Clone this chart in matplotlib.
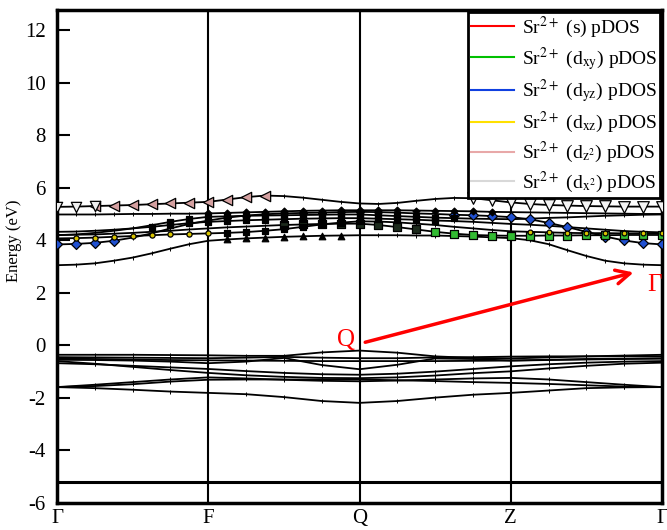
import numpy as np
import matplotlib
matplotlib.use("Agg")
import matplotlib.pyplot as plt
from matplotlib.lines import Line2D

plt.rcParams['font.family'] = ['Liberation Serif', 'DejaVu Serif']
plt.rcParams['mathtext.fontset'] = 'stix'

# high-symmetry path
kpath_labels = ['Γ', 'F', 'Q', 'Z', 'Γ']
kpath_pos = [0, 1, 2, 3, 4]

# conduction bands, sampled every 1/8 of a segment
k_cond = np.arange(33) * 0.125
cond_1 = [3.05, 3.07, 3.12, 3.22, 3.34, 3.50, 3.68, 3.85, 3.98, 4.03, 4.07, 4.10, 4.13, 4.15, 4.17, 4.18, 4.19,
          4.19, 4.19, 4.18, 4.18, 4.16, 4.14, 4.11, 4.08, 4.00, 3.85, 3.62, 3.40, 3.22, 3.12, 3.07, 3.05]
cond_2 = [3.84, 3.86, 3.90, 3.98, 4.10, 4.26, 4.45, 4.62, 4.75, 4.86, 4.94, 4.99, 5.02, 5.04, 5.05, 5.07, 5.08,
          5.07, 5.05, 5.02, 5.00, 4.97, 4.95, 4.92, 4.88, 4.80, 4.66, 4.50, 4.32, 4.14, 3.99, 3.89, 3.84]
cond_3 = [4.20, 4.21, 4.22, 4.25, 4.28, 4.32, 4.36, 4.41, 4.45, 4.49, 4.52, 4.55, 4.58, 4.60, 4.62, 4.63, 4.63,
          4.58, 4.50, 4.41, 4.32, 4.25, 4.20, 4.18, 4.17, 4.17, 4.18, 4.18, 4.19, 4.19, 4.20, 4.20, 4.20]
cond_4 = [4.07, 4.08, 4.10, 4.13, 4.16, 4.19, 4.22, 4.24, 4.26, 4.28, 4.31, 4.36, 4.42, 4.51, 4.60, 4.67, 4.72,
          4.71, 4.68, 4.63, 4.58, 4.51, 4.45, 4.39, 4.34, 4.32, 4.30, 4.28, 4.27, 4.27, 4.26, 4.26, 4.26]
cond_5 = [4.32, 4.33, 4.36, 4.40, 4.45, 4.51, 4.58, 4.65, 4.70, 4.73, 4.76, 4.78, 4.80, 4.82, 4.83, 4.84, 4.84,
          4.82, 4.80, 4.78, 4.75, 4.73, 4.70, 4.66, 4.62, 4.59, 4.55, 4.50, 4.45, 4.40, 4.35, 4.32, 4.30]
cond_6 = [4.19, 4.22, 4.28, 4.36, 4.45, 4.57, 4.70, 4.81, 4.89, 4.91, 4.93, 4.94, 4.95, 4.96, 4.97, 4.98, 4.98,
          4.95, 4.92, 4.89, 4.86, 4.84, 4.82, 4.81, 4.80, 4.82, 4.85, 4.87, 4.90, 4.93, 4.95, 4.97, 4.98]
cond_7 = [4.98, 4.98, 4.98, 4.99, 5.00, 5.00, 5.01, 5.01, 5.02, 5.04, 5.06, 5.08, 5.10, 5.12, 5.13, 5.14, 5.14,
          5.14, 5.14, 5.13, 5.12, 5.11, 5.10, 5.08, 5.07, 5.06, 5.05, 5.04, 5.03, 5.02, 5.01, 5.00, 5.00]
cond_8 = [5.27, 5.28, 5.30, 5.32, 5.34, 5.37, 5.40, 5.43, 5.46, 5.55, 5.64, 5.70, 5.68, 5.62, 5.54, 5.46, 5.40,
          5.38, 5.42, 5.50, 5.57, 5.61, 5.60, 5.52, 5.44, 5.38, 5.34, 5.32, 5.30, 5.29, 5.28, 5.28, 5.28]

# valence bands, sampled every 1/4 of a segment
k_val = np.arange(17) * 0.25
val_1 = [-0.36, -0.36, -0.36, -0.37, -0.38, -0.40, -0.40, -0.27, -0.20, -0.28, -0.42, -0.48, -0.50, -0.46, -0.42, -0.39, -0.36]
val_2 = [-0.45, -0.46, -0.47, -0.48, -0.49, -0.47, -0.44, -0.47, -0.49, -0.49, -0.46, -0.45, -0.43, -0.42, -0.42, -0.42, -0.42]
val_3 = [-0.55, -0.56, -0.58, -0.62, -0.68, -0.62, -0.48, -0.75, -0.91, -0.74, -0.50, -0.52, -0.58, -0.55, -0.52, -0.51, -0.50]
val_4 = [-0.68, -0.72, -0.78, -0.84, -0.90, -0.98, -1.05, -1.10, -1.12, -1.08, -1.00, -0.90, -0.80, -0.72, -0.66, -0.62, -0.60]
val_5 = [-0.60, -0.70, -0.82, -0.94, -1.05, -1.14, -1.20, -1.24, -1.25, -1.22, -1.15, -1.06, -0.99, -0.88, -0.78, -0.70, -0.66]
val_6 = [-1.59, -1.50, -1.40, -1.30, -1.22, -1.26, -1.31, -1.35, -1.37, -1.34, -1.30, -1.26, -1.24, -1.30, -1.40, -1.50, -1.59]
val_7 = [-1.59, -1.55, -1.48, -1.38, -1.31, -1.30, -1.30, -1.30, -1.30, -1.33, -1.36, -1.40, -1.43, -1.47, -1.52, -1.57, -1.59]
val_8 = [-1.59, -1.63, -1.69, -1.76, -1.81, -1.86, -1.97, -2.12, -2.19, -2.12, -1.99, -1.88, -1.81, -1.72, -1.63, -1.60, -1.59]
val_9 = [-0.50, -0.52, -0.54, -0.56, -0.57, -0.58, -0.59, -0.60, -0.60, -0.60, -0.60, -0.59, -0.58, -0.56, -0.54, -0.52, -0.50]

# deep, nearly dispersionless band
k_flat = [0, 4]
flat_band = [-5.19, -5.19]

# orbital-projected weights shown as symbols: (band, indices, marker, face colour, size)
fat_marks = [
    (cond_8, range(2, 12), '<', '#d4a0a0', 55),
    (cond_8, range(0, 3), 'v', '#eeeeee', 55),
    (cond_8, range(22, 33), 'v', '#f4f4f4', 70),
    (cond_2, range(0, 4), 'D', '#2050d0', 26),
    (cond_2, range(9, 18), 'D', '#1a3a90', 16),
    (cond_2, range(21, 33), 'D', '#2050d0', 26),
    (cond_3, range(12, 20), 's', '#1c2a1c', 30),
    (cond_3, range(20, 33), 's', '#33bb33', 30),
    (cond_4, range(1, 9), 'o', '#d8c400', 14),
    (cond_4, range(25, 33), 'o', '#d8c400', 12),
    (cond_4, range(9, 17), 's', 'black', 18),
    (cond_5, range(5, 21), 's', 'black', 22),
    (cond_6, range(6, 22), 's', 'black', 22),
    (cond_7, range(8, 24), 'D', 'black', 12),
    (cond_1, range(9, 16), '^', 'black', 22),
]

legend_labels = [r'Sr$^{2+}$ (s) pDOS', r'Sr$^{2+}$ (d$_{\mathrm{xy}}$) pDOS',
                 r'Sr$^{2+}$ (d$_{\mathrm{yz}}$) pDOS', r'Sr$^{2+}$ (d$_{\mathrm{xz}}$) pDOS',
                 r'Sr$^{2+}$ (d$_{\mathrm{z}^2}$) pDOS', r'Sr$^{2+}$ (d$_{\mathrm{x}^2}$) pDOS']
legend_colors = ['#ff0000', '#00c000', '#1040e0', '#ffe000', '#e8a8a8', '#d8d8d8']

fig = plt.figure(figsize=(6.67, 5.30), dpi=100)
ax = fig.add_axes([0.0855, 0.051, 0.907, 0.930])

line_style = dict(color='black', lw=1.3, marker='|', ms=3, mew=0.7)
for band in [cond_1, cond_2, cond_3, cond_4, cond_5, cond_6, cond_7, cond_8]:
    ax.plot(k_cond, band, **line_style)
for band in [val_1, val_2, val_3, val_4, val_5, val_6, val_7, val_8, val_9]:
    ax.plot(k_val, band, **line_style)
ax.plot(k_flat, flat_band, color='black', lw=2.2)

for band, idx, mk, face, size in fat_marks:
    idx = list(idx)
    ax.scatter(k_cond[idx], np.array(band)[idx], marker=mk, s=size, facecolor=face,
               edgecolor='black', linewidths=0.9, zorder=3)

for x in kpath_pos[1:-1]:
    ax.axvline(x, color='black', lw=1.5)

# red Q -> Γ annotation
ax.annotate('', xy=(3.83, 2.80), xytext=(2.02, 0.09),
            arrowprops=dict(arrowstyle='->,head_length=1.0,head_width=0.5', color='red', lw=2.5))
ax.text(1.91, 0.2, 'Q', color='red', fontsize=18, ha='center', va='center')
ax.text(3.95, 2.3, 'Γ', color='red', fontsize=18, ha='center', va='center')

ax.set_xlim(0, 4)
ax.set_ylim(-6, 12.76)
ax.set_xticks(kpath_pos)
ax.set_xticklabels(kpath_labels, fontsize=15)
ax.set_yticks(range(-6, 13, 2))
ax.set_yticklabels([str(v) for v in range(-6, 13, 2)], fontsize=15)
ax.tick_params(axis='x', length=0, pad=4)
ax.tick_params(axis='y', direction='in', length=9, width=1.5, pad=8)
ax.set_ylabel('Energy (eV)', fontsize=12)
ax.yaxis.set_label_coords(-0.058, 0.531)
for spine in ax.spines.values():
    spine.set_linewidth(2.5)

handles = [Line2D([], [], color=c, lw=1.5) for c in legend_colors]
leg = ax.legend(handles, legend_labels, loc='upper right', fontsize=14, frameon=True, fancybox=False,
                handlelength=2.2, handletextpad=0.4, labelspacing=0.24, borderpad=0.15,
                borderaxespad=0.1)
leg.get_frame().set_edgecolor('black')
leg.get_frame().set_linewidth(2.0)
leg.get_frame().set_alpha(1)

fig.savefig('out.png', dpi=100)
